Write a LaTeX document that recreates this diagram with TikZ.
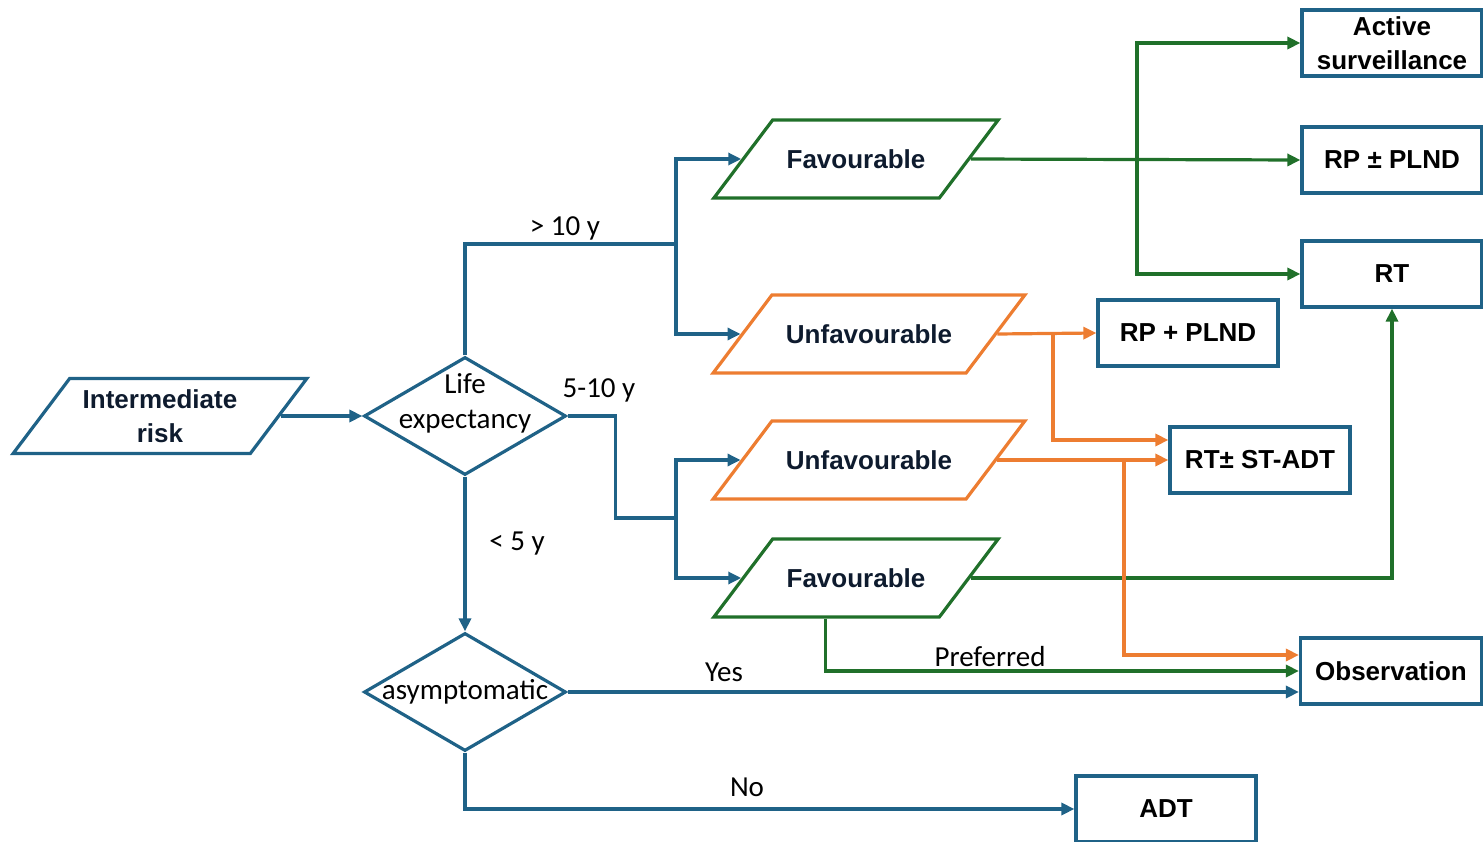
\documentclass[tikz,border=0pt]{standalone}
\usepackage{fontspec}
\setmainfont{Liberation Sans}
\newfontfamily\edgefont{Carlito}
\usetikzlibrary{shapes.geometric,arrows.meta}
\definecolor{flowblue}{RGB}{31,98,135}
\definecolor{flowgreen}{RGB}{32,112,42}
\definecolor{floworange}{RGB}{237,125,49}
\definecolor{flowink}{RGB}{14,27,46}

\tikzset{
  para/.style={trapezium, trapezium left angle=53, trapezium right angle=127,
    draw, line width=3.2pt, text height=22.5pt, text depth=3.5pt,
    inner xsep=14pt, inner ysep=26pt, text=flowink, align=center,
    font=\fontsize{26}{34}\selectfont\bfseries},
  outbox/.style={rectangle, draw=flowblue, line width=3.2pt, minimum width=180pt,
    minimum height=66pt, inner sep=1pt, align=center,
    font=\fontsize{26}{34}\selectfont\bfseries},
  decide/.style={diamond, draw=flowblue, line width=3.2pt, minimum width=202pt,
    minimum height=118pt, inner sep=0pt},
  tag/.style={font=\edgefont\fontsize{29}{35}\selectfont, align=center},
  link/.style={line width=3.2pt, -{Triangle[length=13pt,width=12pt]}},
  plain/.style={line width=3.2pt}
}

\begin{document}
\begin{tikzpicture}[x=1pt, y=-1pt]
  \useasboundingbox (0,0) rectangle (1483,842);

  % start and decisions
  \node[para, draw=flowblue, text height={}, text depth={}, inner ysep=11pt, inner xsep=13pt] (risk) at (160,416) {Intermediate\\risk};
  \node[decide, label={[tag, yshift=13pt]center:Life\\expectancy}] (life) at (465,416) {};
  \node[decide, label={[tag]center:asymptomatic}] (asym) at (465,692) {};

  % risk groups
  \node[para, draw=flowgreen] (fav1) at (856,159) {Favourable};
  \node[para, draw=floworange] (unfav1) at (869,334) {Unfavourable};
  \node[para, draw=floworange] (unfav2) at (869,460) {Unfavourable};
  \node[para, draw=flowgreen] (fav2) at (856,578) {Favourable};

  % treatments
  \node[outbox] (as) at (1392,43) {Active\\surveillance};
  \node[outbox] (rppm) at (1392,160) {RP ± PLND};
  \node[outbox] (rt) at (1392,274) {RT};
  \node[outbox] (rpp) at (1188,333) {RP + PLND};
  \node[outbox] (rtst) at (1260,460) {RT± ST-ADT};
  \node[outbox, minimum width=181pt] (obs) at (1391,671) {Observation};
  \node[outbox] (adt) at (1166,809) {ADT};

  % junctions
  \coordinate (j1) at (676,244);
  \coordinate (j2) at (676,518);
  \coordinate (j3) at (1137,159);
  \coordinate (j4) at (1053,334);
  \coordinate (j5) at (1124,460);

  % blue connectors
  \draw[link, flowblue] (risk.right side) -- (life.west);
  \draw[plain, flowblue] (life.north) |- (j1);
  \draw[link, flowblue] (j1) |- (fav1.left side);
  \draw[link, flowblue] (j1) |- (unfav1.left side);
  \draw[plain, flowblue] (life.east) -- ++(48,0) |- (j2);
  \draw[link, flowblue] (j2) |- (unfav2.left side);
  \draw[link, flowblue] (j2) |- (fav2.left side);
  \draw[link, flowblue] (life.south) -- (asym.north);
  \draw[link, flowblue] (asym.east) -- (asym.east -| obs.west);
  \draw[link, flowblue] (asym.south) |- (adt.west);

  % green connectors
  \draw[link, flowgreen] (fav1.right side) -- (rppm.west);
  \draw[link, flowgreen] (j3) |- (as.west);
  \draw[link, flowgreen] (j3) |- (rt.west);
  \draw[link, flowgreen] (fav2.right side) -| (rt.south);
  \draw[link, flowgreen] (fav2.bottom side) |- (obs.west);

  % orange connectors
  \draw[link, floworange] (unfav1.right side) -- (rpp.west);
  \draw[link, floworange] (j4) |- ([yshift=20pt]rtst.west);
  \draw[link, floworange] (unfav2.right side) -- (rtst.west);
  \draw[link, floworange] (j5) |- ([yshift=16pt]obs.west);

  % labels
  \node[tag] (ten) at (565,228) {> 10 y};
  \node[tag] (fiveten) at (599,390) {5-10 y};
  \node[tag] (five) at (517,544) {< 5 y};
  \node[tag] (yes) at (724,672) {Yes};
  \node[tag] (no) at (747,787) {No};
  \node[tag] (pref) at (990,657) {Preferred};
\end{tikzpicture}
\end{document}
